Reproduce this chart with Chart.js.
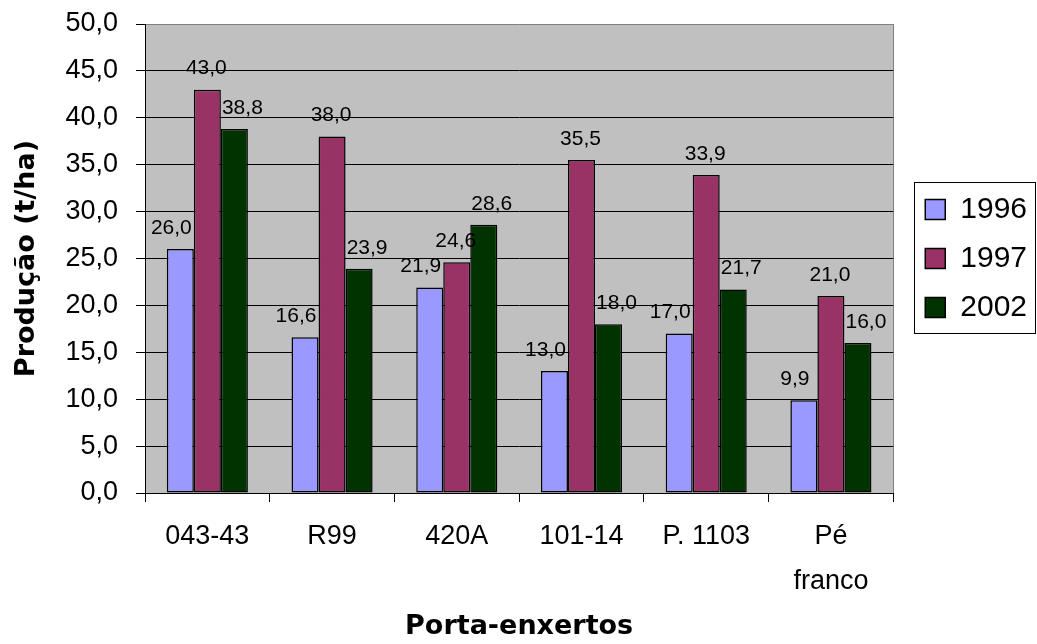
<!DOCTYPE html>
<html>
<head>
<meta charset="utf-8">
<title>Produção por porta-enxerto</title>
<script src="https://cdn.jsdelivr.net/npm/chart.js@4/dist/chart.umd.min.js"></script>
<style>
  html, body { margin: 0; padding: 0; background: #fff; }
  #wrap { width: 1037px; height: 644px; }
</style>
</head>
<body>
<div id="wrap"><canvas id="c" width="1037" height="644"></canvas></div>
<script>
// Rootstocks (porta-enxertos) and yield per season, t/ha
const categories = ['043-43', 'R99', '420A', '101-14', 'P. 1103', ['Pé', 'franco']];
const seriesNames = ['1996', '1997', '2002'];
const values1996 = [26.0, 16.6, 21.9, 13.0, 17.0, 9.9];
const values1997 = [43.0, 38.0, 24.6, 35.5, 33.9, 21.0];
const values2002 = [38.8, 23.9, 28.6, 18.0, 21.7, 16.0];
const yTicks = [0, 5, 10, 15, 20, 25, 30, 35, 40, 45, 50];

const colors = ['#9999ff', '#993366', '#003300'];
const labelShift = [-9, -1, 8];   // horizontal nudge of the value labels per series

const fmt = v => v.toFixed(1).replace('.', ',');
const REG = '"Liberation Sans", Arial, sans-serif';
const BOLD = '"DejaVu Sans", Verdana, sans-serif';

Chart.defaults.color = '#000';
Chart.defaults.font.family = REG;

// gray plot background and right edge
const plotBackground = {
  id: 'plotBackground',
  beforeDraw(chart) {
    const { ctx, chartArea: a } = chart;
    ctx.save();
    ctx.fillStyle = '#c0c0c0';
    ctx.fillRect(a.left, a.top, a.right - a.left, a.bottom - a.top);
    ctx.strokeStyle = '#808080';
    ctx.lineWidth = 1;
    ctx.beginPath();
    ctx.moveTo(Math.round(a.right) + 0.5, a.top);
    ctx.lineTo(Math.round(a.right) + 0.5, a.bottom);
    ctx.stroke();
    ctx.restore();
  }
};

// value labels above each bar
const valueLabels = {
  id: 'valueLabels',
  afterDatasetsDraw(chart) {
    const { ctx } = chart;
    ctx.save();
    ctx.font = '21px ' + REG;
    ctx.fillStyle = '#000';
    ctx.textAlign = 'center';
    ctx.textBaseline = 'middle';
    chart.data.datasets.forEach((ds, i) => {
      chart.getDatasetMeta(i).data.forEach((bar, j) => {
        ctx.fillText(fmt(ds.data[j]), bar.x + labelShift[i], bar.y - 21);
      });
    });
    ctx.restore();
  }
};

// frame around the legend
const legendFrame = {
  id: 'legendFrame',
  afterDraw(chart) {
    const hb = chart.legend && chart.legend.legendHitBoxes;
    if (!hb || !hb.length) return;
    const { ctx } = chart;
    const last = hb[hb.length - 1];
    const left = Math.round(hb[0].left - 11) + 0.5;
    const top = Math.round(hb[0].top - 13) + 0.5;
    const right = chart.width - 1.5;
    const bottom = Math.round(last.top + last.height + 10) + 0.5;
    ctx.save();
    ctx.strokeStyle = '#000';
    ctx.lineWidth = 1;
    ctx.strokeRect(left, top, right - left, bottom - top);
    ctx.restore();
  }
};

new Chart(document.getElementById('c'), {
  type: 'bar',
  data: {
    labels: categories,
    datasets: [
      { label: seriesNames[0], data: values1996, backgroundColor: colors[0] },
      { label: seriesNames[1], data: values1997, backgroundColor: colors[1] },
      { label: seriesNames[2], data: values2002, backgroundColor: colors[2] }
    ].map(d => Object.assign(d, { borderColor: '#000', borderWidth: 1.5, borderSkipped: false }))
  },
  options: {
    responsive: false,
    animation: false,
    layout: { padding: { top: 24, right: 0, bottom: 0, left: 0 } },
    datasets: { bar: { categoryPercentage: 0.65, barPercentage: 1.0 } },
    plugins: {
      tooltip: { enabled: false },
      legend: {
        position: 'right',
        fullSize: false,
        labels: {
          boxWidth: 20,
          boxHeight: 20,
          padding: 19,
          color: '#000',
          font: { size: 30, family: REG }
        }
      }
    },
    scales: {
      x: {
        grid: { display: true, drawOnChartArea: false, drawTicks: true, tickLength: 9, color: '#000' },
        border: { display: true, color: '#000', width: 1 },
        ticks: { color: '#000', padding: 12, maxRotation: 0, autoSkip: false,
                 font: { size: 27, family: REG, lineHeight: 1.667 } },
        title: { display: true, text: 'Porta-enxertos', color: '#000',
                 padding: { top: 0, bottom: 1 },
                 font: { size: 27, weight: 'bold', family: BOLD } },
        afterFit(scale) {
          scale.height = 151;
          scale.paddingLeft = 0;
          scale.paddingRight = 0;
        }
      },
      y: {
        min: 0,
        max: 50,
        afterBuildTicks(scale) { scale.ticks = yTicks.map(v => ({ value: v })); },
        grid: {
          color: ctx => (ctx.tick && ctx.tick.value === 50 ? '#808080' : '#000'),
          tickColor: '#000',
          tickLength: 9,
          lineWidth: 1
        },
        border: { display: true, color: '#000', width: 1 },
        ticks: { color: '#000', padding: 18, callback: v => fmt(v),
                 font: { size: 27, family: REG } },
        title: { display: true, text: 'Produção (t/ha)', color: '#000',
                 padding: { top: 11, bottom: 0 },
                 font: { size: 27, weight: 'bold', family: BOLD } },
        afterFit(scale) {
          scale.width = 145;
          scale.paddingTop = 0;
          scale.paddingBottom = 0;
        }
      },
      gap: {
        position: 'right',
        display: true,
        grid: { display: false, drawTicks: false },
        border: { display: false },
        ticks: { display: false },
        afterFit(scale) {
          scale.width = 13;
          scale.paddingTop = 0;
          scale.paddingBottom = 0;
        }
      }
    }
  },
  plugins: [plotBackground, valueLabels, legendFrame]
});
</script>
</body>
</html>
